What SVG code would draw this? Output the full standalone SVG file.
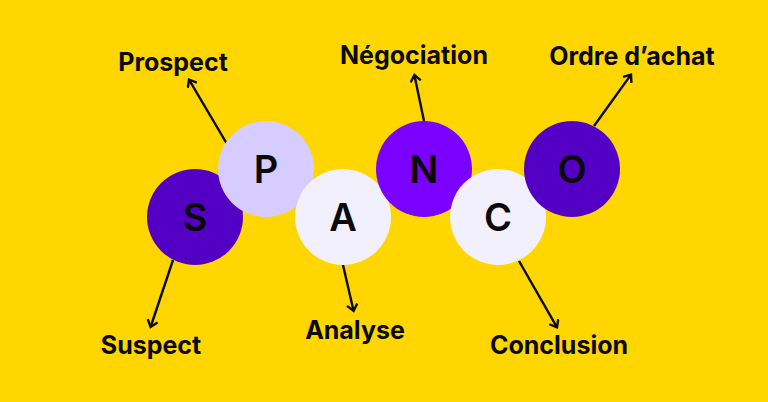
<svg xmlns="http://www.w3.org/2000/svg" width="768" height="402" viewBox="0 0 768 402">
<style>
.lb{font-family:"Inter","Liberation Sans",sans-serif;font-weight:700;font-size:25px;fill:#0a0a0a;text-anchor:middle}
.lt{font-family:"Inter","Liberation Sans",sans-serif;font-weight:600;font-size:38px;fill:#0a0a0a;text-anchor:middle}
.c{fill:none;stroke:#0a0a0a;stroke-width:2.4}
.h{fill:none;stroke:#0a0a0a;stroke-width:2.4}
</style>
<defs>
<marker id="arrow" markerUnits="userSpaceOnUse" markerWidth="14" markerHeight="14" refX="9" refY="6" orient="auto">
<path d="M2.500 0.800L9 6L2.500 11.200" class="h"/>
</marker>
</defs>
<rect width="768" height="402" fill="#ffd600"/>
<g id="connectors">
<path class="c" marker-end="url(#arrow)" d="M227 144L189 79.700"/>
<path class="c" marker-end="url(#arrow)" d="M173 260L150.600 327"/>
<path class="c" marker-end="url(#arrow)" d="M343 265L353.600 311"/>
<path class="c" marker-end="url(#arrow)" d="M424 121L414.400 75"/>
<path class="c" marker-end="url(#arrow)" d="M519 261L557 327.300"/>
<path class="c" marker-end="url(#arrow)" d="M594 126L631 74.600"/>
</g>
<g id="node-s"><circle cx="195" cy="217" r="48" fill="#5400c4"/><text class="lt" x="195" y="231">S</text></g>
<g id="node-p"><circle cx="266" cy="169" r="48" fill="#d6ccff"/><text class="lt" x="266" y="183">P</text></g>
<g id="node-a"><circle cx="343" cy="217" r="48" fill="#f3f0fd"/><text class="lt" x="343" y="231">A</text></g>
<g id="node-n"><circle cx="424" cy="169" r="48" fill="#7a00ff"/><text class="lt" x="424" y="183">N</text></g>
<g id="node-c"><circle cx="498" cy="217" r="48" fill="#f3f0fd"/><text class="lt" x="498" y="231">C</text></g>
<g id="node-o"><circle cx="572" cy="169" r="48" fill="#5400c4"/><text class="lt" x="572" y="183">O</text></g>
<g id="label-prospect"><text class="lb" x="173" y="71">Prospect</text></g>
<g id="label-suspect"><text class="lb" x="151" y="354">Suspect</text></g>
<g id="label-analyse"><text class="lb" x="355" y="339">Analyse</text></g>
<g id="label-negociation"><text class="lb" x="414" y="64">Négociation</text></g>
<g id="label-conclusion"><text class="lb" x="559" y="354">Conclusion</text></g>
<g id="label-ordre"><text class="lb" x="632" y="65">Ordre d’achat</text></g>
</svg>
